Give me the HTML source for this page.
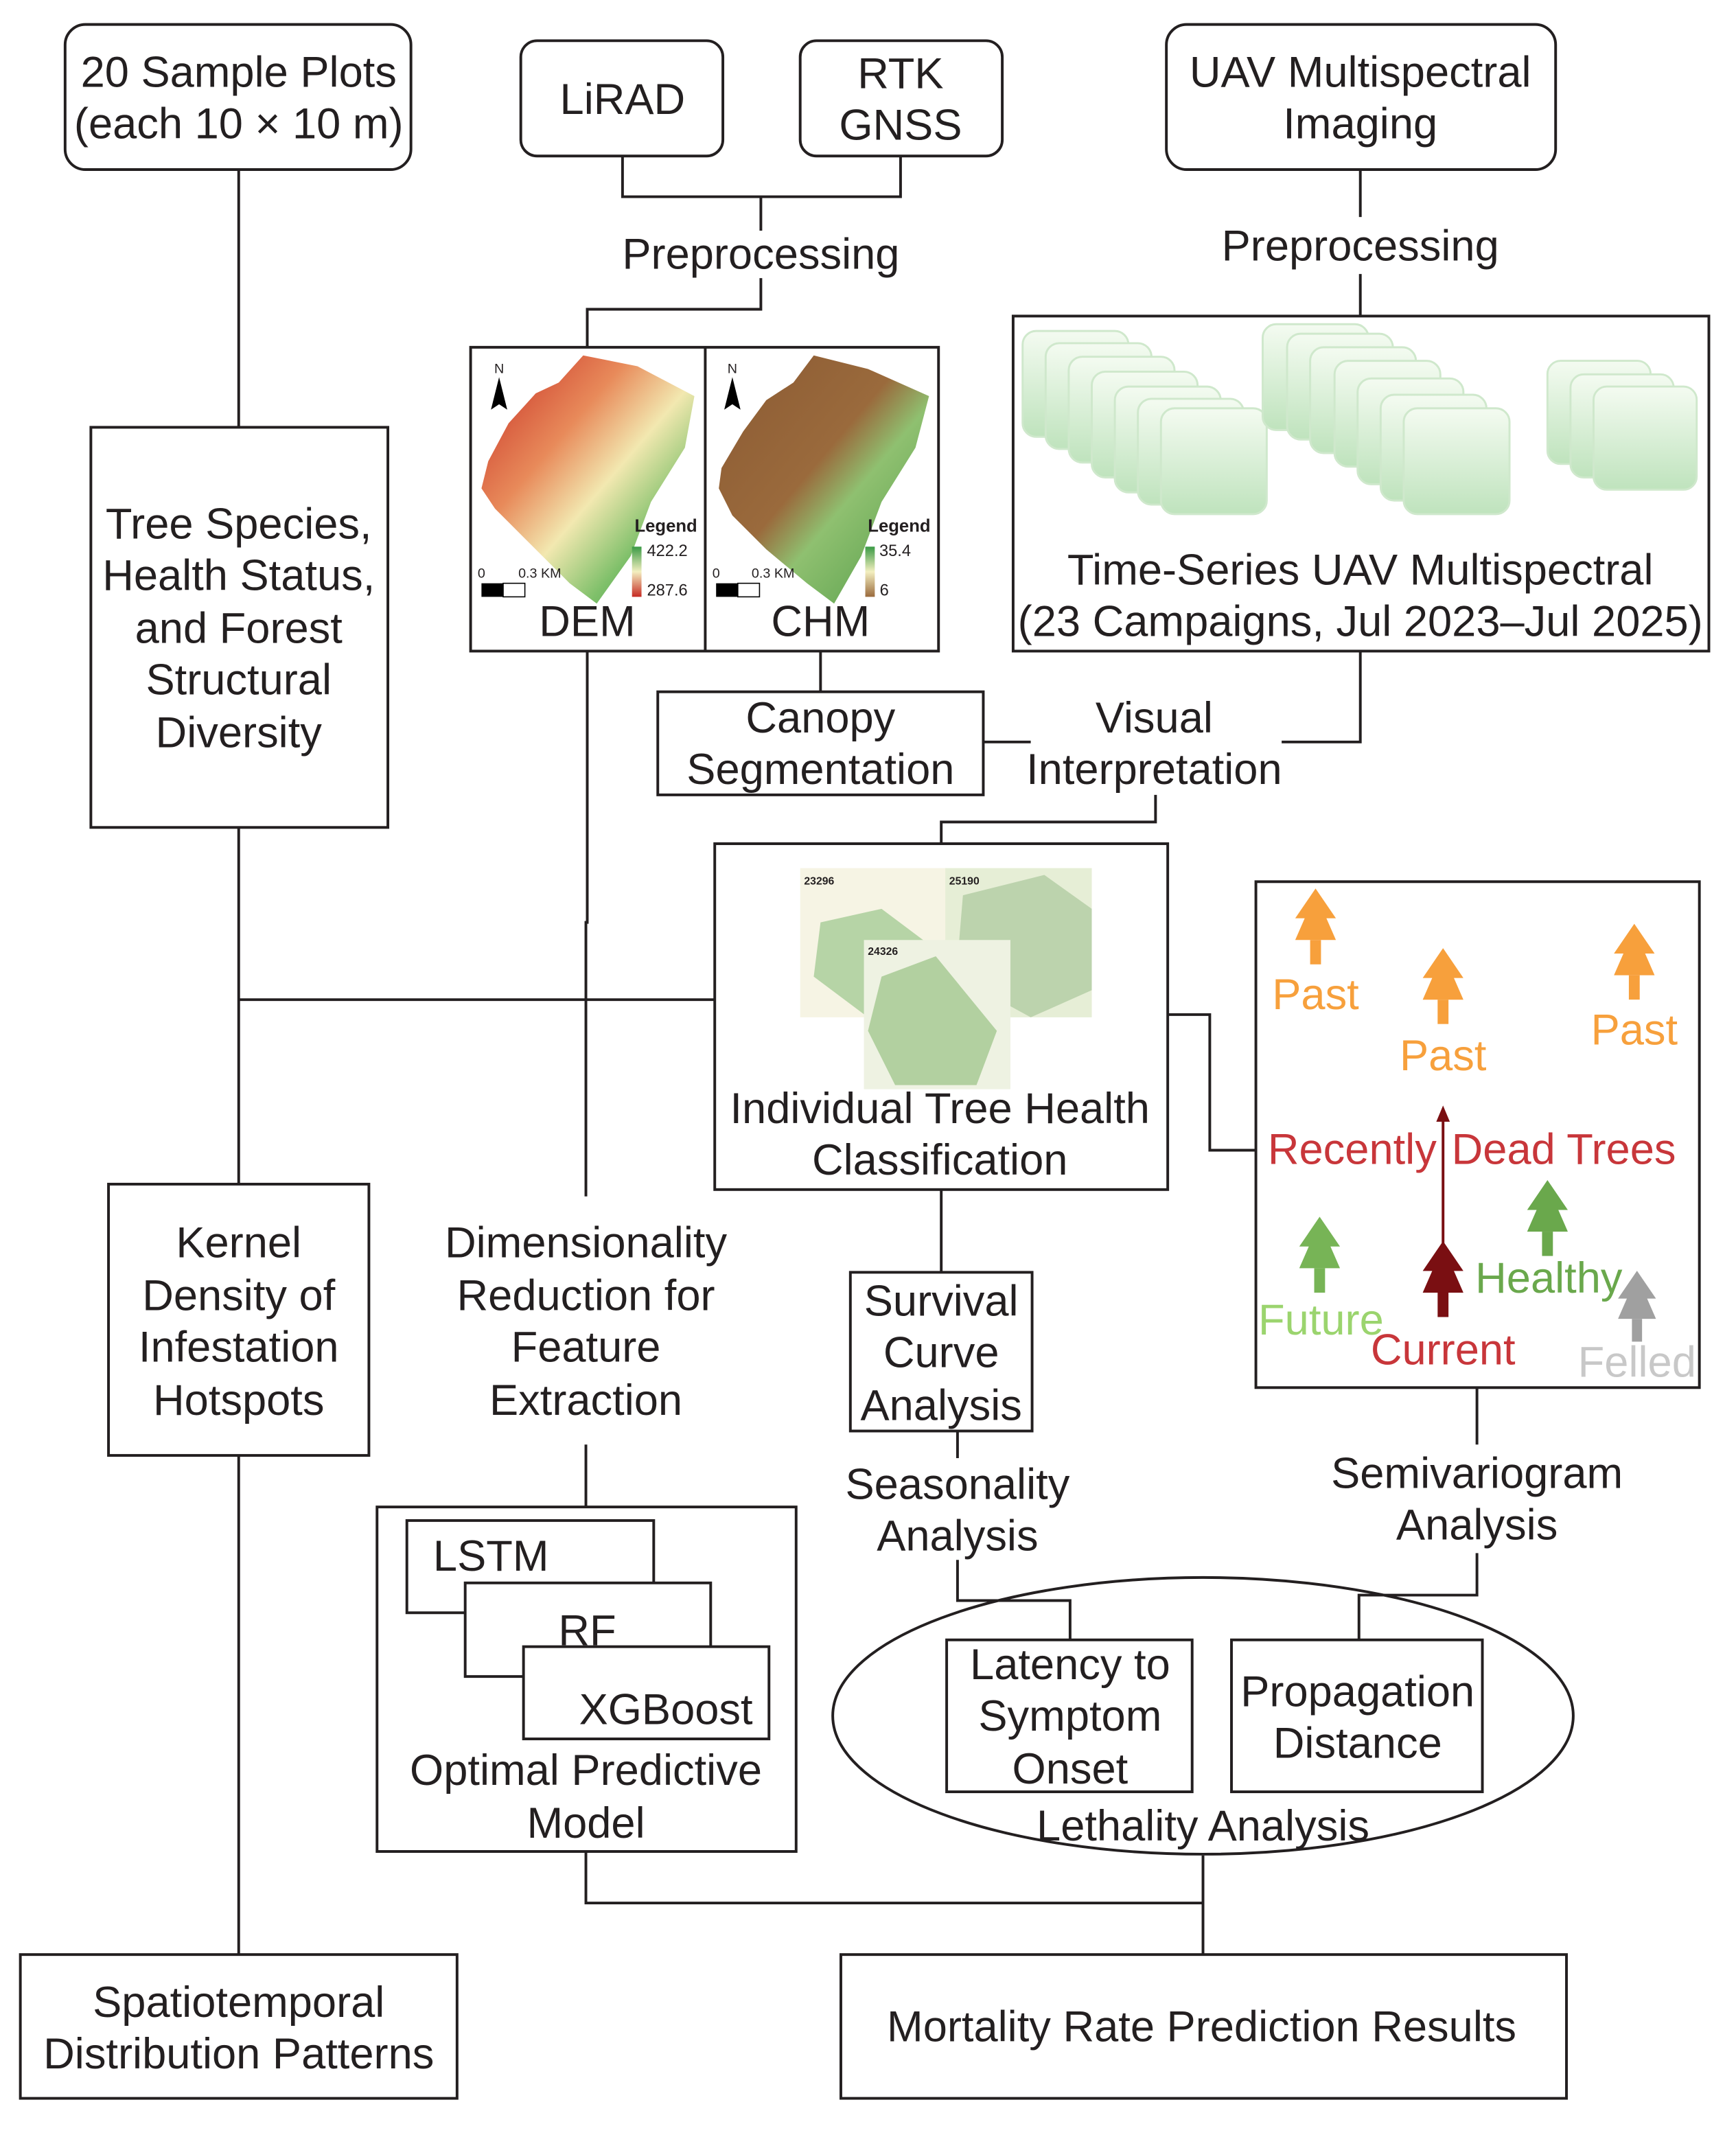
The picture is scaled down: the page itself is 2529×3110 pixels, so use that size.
<!DOCTYPE html>
<html><head><meta charset="utf-8"><style>
html,body{margin:0;padding:0;background:#fff;}
svg{display:block;}
text{font-family:"Liberation Sans",Arial,sans-serif;font-size:32px;fill:#231f20;text-anchor:middle;}
</style></head><body>
<svg width="2529" height="3110" viewBox="0 0 1280 1574" xmlns="http://www.w3.org/2000/svg">
<defs>
<linearGradient id="gs" x1="0" y1="0" x2="0" y2="1"><stop offset="0" stop-color="#f4fbf1"/><stop offset="1" stop-color="#bfe3bd"/></linearGradient>
<linearGradient id="dem" x1="0" y1="0" x2="1" y2="1"><stop offset="0" stop-color="#c62a22"/><stop offset="0.35" stop-color="#e88a5a"/><stop offset="0.55" stop-color="#f2e8b0"/><stop offset="0.75" stop-color="#7fc06a"/><stop offset="1" stop-color="#2e8b3a"/></linearGradient>
<linearGradient id="chm" x1="0" y1="0" x2="1" y2="1"><stop offset="0" stop-color="#8b5a33"/><stop offset="0.45" stop-color="#9a6a3c"/><stop offset="0.6" stop-color="#8fc070"/><stop offset="1" stop-color="#4f9a45"/></linearGradient>
<linearGradient id="lg1" x1="0" y1="0" x2="0" y2="1"><stop offset="0" stop-color="#3a9a45"/><stop offset="0.5" stop-color="#f3efc0"/><stop offset="1" stop-color="#c62a22"/></linearGradient>
<linearGradient id="lg2" x1="0" y1="0" x2="0" y2="1"><stop offset="0" stop-color="#3a9a45"/><stop offset="0.5" stop-color="#f3efc0"/><stop offset="1" stop-color="#9a6a3c"/></linearGradient>
<symbol id="tree" viewBox="0 0 30 56"><polygon points="15,0 30,22 23,22 30,38 0,38 7,22 0,22"/><rect x="11" y="38" width="8" height="18"/></symbol>
<symbol id="sq" viewBox="0 0 80 80"><rect x="1" y="1" width="78" height="78" rx="10" fill="url(#gs)" stroke="#cfe8cc" stroke-width="1.5"/></symbol>
</defs>
<g fill="none" stroke="#231f20" stroke-width="2">
<rect x="48" y="18" width="255" height="107" rx="15"/>
<rect x="384" y="30" width="149" height="85" rx="12"/>
<rect x="590" y="30" width="149" height="85" rx="12"/>
<rect x="860" y="18" width="287" height="107" rx="15"/>
<polyline points="459,115 459,145 664,145 664,115"/>
<line x1="561" y1="145" x2="561" y2="170"/>
<polyline points="561,205 561,228 433,228 433,256"/>
<line x1="1003" y1="125" x2="1003" y2="160"/>
<line x1="1003" y1="202" x2="1003" y2="233"/>
<rect x="347" y="256" width="345" height="224"/>
<line x1="520" y1="256" x2="520" y2="480"/>
<rect x="747" y="233" width="513" height="247"/>
<line x1="176" y1="125" x2="176" y2="315"/>
<rect x="67" y="315" width="219" height="295"/>
<line x1="176" y1="610" x2="176" y2="873"/>
<line x1="176" y1="737" x2="527" y2="737"/>
<rect x="80" y="873" width="192" height="200"/>
<line x1="176" y1="1073" x2="176" y2="1441"/>
<rect x="15" y="1441" width="322" height="106"/>
<polyline points="433,480 433,680 432,680 432,882"/>
<line x1="432" y1="1065" x2="432" y2="1111"/>
<rect x="278" y="1111" width="309" height="254"/>
<rect x="300" y="1121" width="182" height="68" fill="#fff"/>
<rect x="343" y="1167" width="181" height="69" fill="#fff"/>
<rect x="386" y="1214" width="181" height="68" fill="#fff"/>
<polyline points="432,1365 432,1403 887,1403"/>
<line x1="887" y1="1368" x2="887" y2="1441"/>
<rect x="620" y="1441" width="535" height="106"/>
<line x1="605" y1="480" x2="605" y2="510"/>
<rect x="485" y="510" width="240" height="76"/>
<line x1="725" y1="547" x2="760" y2="547"/>
<polyline points="1003,480 1003,547 945,547"/>
<polyline points="852,586 852,606 694,606 694,622"/>
<rect x="527" y="622" width="334" height="255"/>
<polyline points="861,748 892,748 892,848 926,848"/>
<rect x="926" y="650" width="327" height="373"/>
<line x1="694" y1="877" x2="694" y2="938"/>
<rect x="627" y="938" width="134" height="117"/>
<line x1="706" y1="1055" x2="706" y2="1075"/>
<polyline points="706,1150 706,1180 789,1180 789,1209"/>
<ellipse cx="887" cy="1265" rx="273" ry="102"/>
<rect x="698" y="1209" width="181" height="112" fill="#fff"/>
<rect x="908" y="1209" width="185" height="112" fill="#fff"/>
<line x1="1089" y1="1023" x2="1089" y2="1065"/>
<polyline points="1089,1145 1089,1176 1002,1176 1002,1209"/>
</g>
<polygon points="360,340 375,312 395,290 412,282 430,262 470,270 512,292 505,330 480,370 465,410 440,445 420,430 395,405 365,375 355,360" fill="url(#dem)"/>
<polygon points="368,278 362,302 368,298 374,302" fill="#000"/>
<text x="368" y="275" style="font-size:10px">N</text>
<rect x="355" y="430" width="16" height="10" fill="#000"/><rect x="371" y="430" width="16" height="10" fill="#fff" stroke="#000" stroke-width="0.8"/>
<text x="355" y="426" style="font-size:10px">0</text><text x="398" y="426" style="font-size:10px">0.3 KM</text>
<text x="491" y="392" style="font-size:13px;font-weight:bold">Legend</text>
<rect x="466" y="403" width="7" height="37" fill="url(#lg1)"/>
<text x="492" y="410" style="font-size:12px">422.2</text><text x="492" y="439" style="font-size:12px">287.6</text>
<text x="433" y="469">DEM</text>
<polygon points="532,345 548,318 565,295 585,282 600,262 640,272 685,292 675,330 650,370 635,410 615,445 595,430 565,405 540,380 530,360" fill="url(#chm)"/>
<polygon points="540,278 534,302 540,298 546,302" fill="#000"/>
<text x="540" y="275" style="font-size:10px">N</text>
<rect x="528" y="430" width="16" height="10" fill="#000"/><rect x="544" y="430" width="16" height="10" fill="#fff" stroke="#000" stroke-width="0.8"/>
<text x="528" y="426" style="font-size:10px">0</text><text x="570" y="426" style="font-size:10px">0.3 KM</text>
<text x="663" y="392" style="font-size:13px;font-weight:bold">Legend</text>
<rect x="638" y="403" width="7" height="37" fill="url(#lg2)"/>
<text x="660" y="410" style="font-size:12px">35.4</text><text x="652" y="439" style="font-size:12px">6</text>
<text x="605" y="469">CHM</text>
<use href="#sq" x="753" y="243" width="80" height="80"/><use href="#sq" x="770" y="252" width="80" height="80"/><use href="#sq" x="787" y="262" width="80" height="80"/><use href="#sq" x="804" y="273" width="80" height="80"/><use href="#sq" x="821" y="284" width="80" height="80"/><use href="#sq" x="838" y="293" width="80" height="80"/><use href="#sq" x="855" y="300" width="80" height="80"/>
<use href="#sq" x="930" y="238" width="80" height="80"/><use href="#sq" x="948" y="245" width="80" height="80"/><use href="#sq" x="965" y="255" width="80" height="80"/><use href="#sq" x="983" y="265" width="80" height="80"/><use href="#sq" x="1000" y="278" width="80" height="80"/><use href="#sq" x="1017" y="290" width="80" height="80"/><use href="#sq" x="1034" y="300" width="80" height="80"/>
<use href="#sq" x="1140" y="265" width="78" height="78"/><use href="#sq" x="1157" y="275" width="78" height="78"/><use href="#sq" x="1174" y="284" width="78" height="78"/>
<rect x="590" y="640" width="108" height="110" fill="#f6f4e4"/>
<polygon points="605,680 650,670 690,700 690,750 640,750 600,720" fill="#b6d4a6"/>
<rect x="697" y="640" width="108" height="110" fill="#e6eed6"/>
<polygon points="710,660 770,645 805,670 805,730 760,750 705,720" fill="#bcd3ad"/>
<rect x="637" y="693" width="108" height="110" fill="#eef2e2"/>
<polygon points="650,720 690,705 735,760 720,800 660,800 640,760" fill="#b2d0a0"/>
<text x="604" y="652" style="font-size:8px;font-weight:bold">23296</text>
<text x="711" y="652" style="font-size:8px;font-weight:bold">25190</text>
<text x="651" y="704" style="font-size:8px;font-weight:bold">24326</text>
<use href="#tree" x="955" y="655" width="30" height="56" fill="#f7a03c"/>
<use href="#tree" x="1049" y="699" width="30" height="56" fill="#f7a03c"/>
<use href="#tree" x="1190" y="681" width="30" height="56" fill="#f7a03c"/>
<use href="#tree" x="958" y="897" width="30" height="56" fill="#77b456"/>
<use href="#tree" x="1126" y="870" width="30" height="56" fill="#6aa84c"/>
<use href="#tree" x="1049" y="915" width="30" height="56" fill="#7a0f12"/>
<use href="#tree" x="1193" y="935" width="28" height="56" fill="#a0a0a0"/>
<line x1="1064" y1="918" x2="1064" y2="825" stroke="#7a0f12" stroke-width="2"/>
<polygon points="1064,815 1059,827 1069,827" fill="#7a0f12"/>
<g>
<text x="970" y="744" style="fill:#f7a03c">Past</text>
<text x="1064" y="789" style="fill:#f7a03c">Past</text>
<text x="1205" y="770" style="fill:#f7a03c">Past</text>
<text x="997" y="858" style="fill:#c8363a">Recently</text>
<text x="1153" y="858" style="fill:#c8363a">Dead Trees</text>
<text x="974" y="984" style="fill:#9bd46e">Future</text>
<text x="1142" y="953" style="fill:#6aa84c">Healthy</text>
<text x="1064" y="1006" style="fill:#c8363a">Current</text>
<text x="1207" y="1015" style="fill:#c8c8c8">Felled</text>
</g>
<text x="176" y="64">20 Sample Plots</text><text x="176" y="102">(each 10 × 10 m)</text>
<text x="459" y="84">LiRAD</text>
<text x="664" y="65">RTK</text><text x="664" y="103">GNSS</text>
<text x="1003" y="64">UAV Multispectral</text><text x="1003" y="102">Imaging</text>
<text x="561" y="198">Preprocessing</text>
<text x="1003" y="192">Preprocessing</text>
<text x="1003" y="431">Time-Series UAV Multispectral</text>
<text x="1003" y="469">(23 Campaigns, Jul 2023–Jul 2025)</text>
<text x="176" y="397">Tree Species,</text><text x="176" y="435">Health Status,</text><text x="176" y="474">and Forest</text><text x="176" y="512">Structural</text><text x="176" y="551">Diversity</text>
<text x="605" y="540">Canopy</text><text x="605" y="578">Segmentation</text>
<text x="851" y="540">Visual</text><text x="851" y="578">Interpretation</text>
<text x="693" y="828">Individual Tree Health</text><text x="693" y="866">Classification</text>
<text x="176" y="927">Kernel</text><text x="176" y="966">Density of</text><text x="176" y="1004">Infestation</text><text x="176" y="1043">Hotspots</text>
<text x="432" y="927">Dimensionality</text><text x="432" y="966">Reduction for</text><text x="432" y="1004">Feature</text><text x="432" y="1043">Extraction</text>
<text x="694" y="970">Survival</text><text x="694" y="1008">Curve</text><text x="694" y="1047">Analysis</text>
<text x="706" y="1105">Seasonality</text><text x="706" y="1143">Analysis</text>
<text x="1089" y="1097">Semivariogram</text><text x="1089" y="1135">Analysis</text>
<text x="362" y="1158">LSTM</text><text x="433" y="1213">RF</text><text x="491" y="1271">XGBoost</text>
<text x="432" y="1316">Optimal Predictive</text><text x="432" y="1355">Model</text>
<text x="789" y="1238">Latency to</text><text x="789" y="1276">Symptom</text><text x="789" y="1315">Onset</text>
<text x="1001" y="1258">Propagation</text><text x="1001" y="1296">Distance</text>
<text x="887" y="1357">Lethality Analysis</text>
<text x="176" y="1487">Spatiotemporal</text><text x="176" y="1525">Distribution Patterns</text>
<text x="886" y="1505">Mortality Rate Prediction Results</text>
</svg>
</body></html>
